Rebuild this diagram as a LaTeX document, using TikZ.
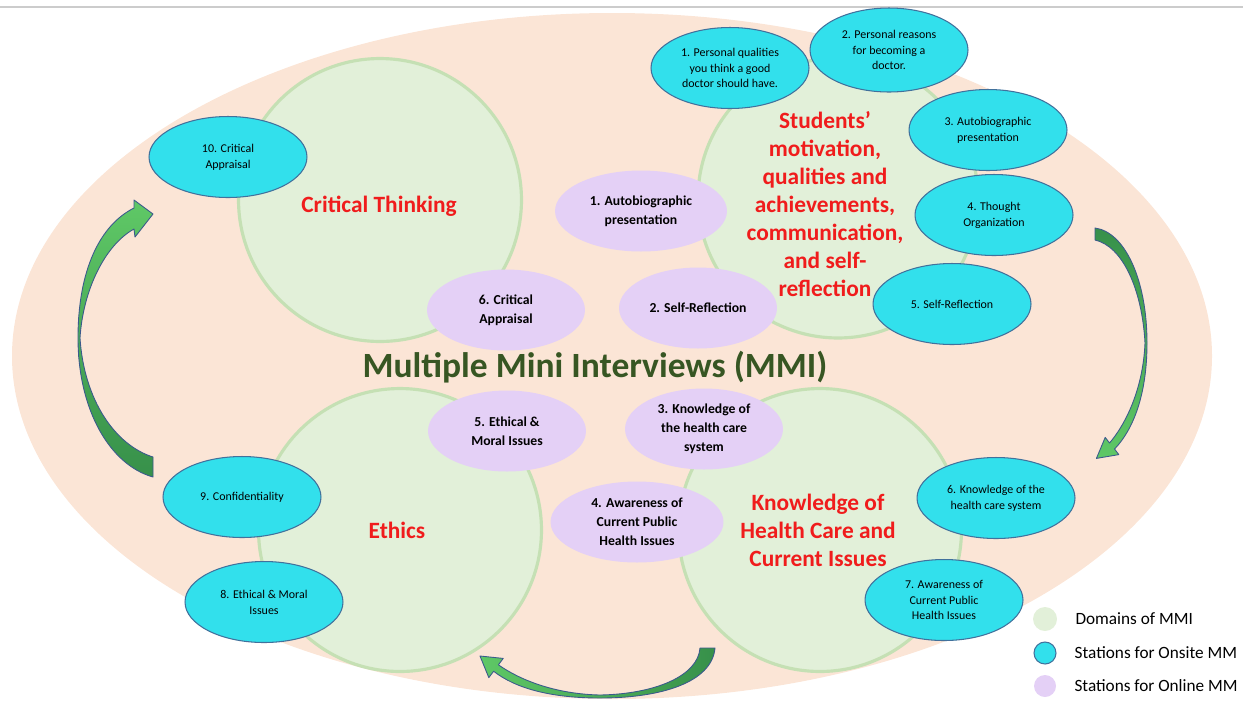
\documentclass[tikz,border=0pt]{standalone}
\usepackage{fontspec}
\setmainfont{Carlito}
\usetikzlibrary{shapes.geometric,positioning}

\definecolor{peach}{HTML}{FBE5D6}
\definecolor{domainfill}{HTML}{E2F0D9}
\definecolor{domainline}{HTML}{C5E0B4}
\definecolor{onsitefill}{HTML}{32E0EC}
\definecolor{onsiteline}{HTML}{41719C}
\definecolor{onlinefill}{HTML}{E4D0F6}
\definecolor{domainred}{HTML}{F01C1C}
\definecolor{titlegreen}{HTML}{375623}
\definecolor{arrowlight}{HTML}{5FC866}
\definecolor{arrowdark}{HTML}{37904A}
\definecolor{arrowline}{HTML}{3B5A8C}

\tikzset{%
  % Specifications for style of nodes:
   domaincircle/.style = {circle, fill=domainfill, draw=domainline,
                          line width=1.8pt, minimum size=5.66cm, inner sep=0pt},
     domaintext/.style = {text=domainred, align=center,
                          font=\fontsize{13.3}{16}\selectfont\bfseries},
        station/.style = {ellipse, inner sep=0pt, minimum width=3.16cm,
                          minimum height=1.62cm, align=center},
         onsite/.style = {station, fill=onsitefill, draw=onsiteline,
                          line width=0.6pt, font=\fontsize{6.8}{9}\selectfont},
         online/.style = {station, fill=onlinefill,
                          font=\fontsize{7.8}{10.7}\selectfont\bfseries},
       bigarrow/.style = {draw=arrowline, line width=0.5pt, line join=round},
     legendtext/.style = {anchor=west, font=\fontsize{9.8}{12}\selectfont},
}

\begin{document}
\begin{tikzpicture}[x=0.02cm, y=-0.02cm]
\useasboundingbox (0,0) rectangle (1243,701);

\draw[black!20, line width=1pt] (0,7) -- (1243,7);
\fill[peach] (612,356) ellipse [x radius=600, y radius=343];

% domains
\node (CT)  [domaincircle] at (380,200) {};
\node (SM)  [domaincircle, minimum size=5.6cm] at (838,198) {};
\node (ETH) [domaincircle] at (400,530) {};
\node (KH)  [domaincircle] at (820,530) {};

\node (CTl)  [domaintext] at (379,206) {Critical Thinking};
\node (SMl)  [domaintext] at (825,204) {Students’\\motivation,\\qualities and\\achievements,\\communication,\\and self-\\reflection};
\node (ETHl) [domaintext] at (397,530) {Ethics};
\node (KHl)  [domaintext] at (818,530) {Knowledge of\\Health Care and\\Current Issues};

% online stations
\node (p1) [online, minimum width=3.44cm] at (641,211) {1. Autobiographic\\presentation};
\node (p2) [online] at (698,308) {2. Self-Reflection};
\node (p3) [online] at (704,429) {3. Knowledge of\\the health care\\system};
\node (p4) [online, minimum width=3.46cm] at (637,522) {4. Awareness of\\Current Public\\Health Issues};
\node (p5) [online] at (507,431) {5. Ethical \&\\Moral Issues};
\node (p6) [online] at (506,310) {6. Critical\\Appraisal};

% onsite stations
\node (c1)  [onsite] at (730,68)  {1. Personal qualities\\you think a good\\doctor should have.};
\node (c2)  [onsite, minimum height=1.68cm] at (889,50) {2. Personal reasons\\for becoming a\\doctor.};
\node (c3)  [onsite] at (988,130) {3. Autobiographic\\presentation};
\node (c4)  [onsite] at (994,215) {4. Thought\\Organization};
\node (c5)  [onsite] at (952,304) {5. Self-Reflection};
\node (c6)  [onsite] at (996,498) {6. Knowledge of the\\health care system};
\node (c7)  [onsite] at (944,600) {7. Awareness of\\Current Public\\Health Issues};
\node (c8)  [onsite] at (264,602) {8. Ethical \& Moral\\Issues};
\node (c9)  [onsite] at (242,497) {9. Confidentiality};
\node (c10) [onsite] at (228,157) {10. Critical\\Appraisal};

\node (title) [text=titlegreen, font=\fontsize{20.2}{24}\selectfont\bfseries]
  at (595,367) {Multiple Mini Interviews (MMI)};

% curved arrows
\path[bigarrow, top color=arrowlight, bottom color=arrowdark]
  (153,477) .. controls (110,465) and (78,410) .. (78,338)
  .. controls (78,270) and (100,225) .. (134,208)
  -- (134,200) -- (153,214) -- (135,237) -- (134,229)
  .. controls (105,245) and (83,290) .. (80,338)
  .. controls (84,400) and (115,445) .. (153,457) -- cycle;
\path[bigarrow, top color=arrowdark, bottom color=arrowlight]
  (1095,228) .. controls (1125,232) and (1147,280) .. (1147,343)
  .. controls (1147,395) and (1133,430) .. (1114.5,449)
  -- (1118.8,454.6) -- (1096.4,458.4) -- (1105.2,437.4) -- (1109.5,443)
  .. controls (1125,425) and (1143,390) .. (1145,343)
  .. controls (1142,288) and (1122,246) .. (1095,240) -- cycle;
\path[bigarrow, left color=arrowlight, right color=arrowdark]
  (715,648) .. controls (712,682) and (662,698) .. (600,698)
  .. controls (550,698) and (515,688) .. (493.6,671.2)
  -- (488.8,677.6) -- (480,656) -- (503.2,658.4) -- (498.4,664.8)
  .. controls (520,680) and (555,694) .. (600,695)
  .. controls (655,694) and (698,676) .. (700,648) -- cycle;

% legend
\node (lgD) [circle, fill=domainfill, inner sep=0pt, minimum size=0.48cm] at (1045,619) {};
\node (lgS) [circle, fill=onsitefill, draw=onsiteline, line width=0.6pt,
             inner sep=0pt, minimum size=0.44cm] at (1045,653) {};
\node (lgO) [circle, fill=onlinefill, inner sep=0pt, minimum size=0.44cm] at (1045,686) {};
\node (lgDt) [legendtext, right=0.24cm of lgD] {Domains of MMI};
\node (lgSt) [legendtext, right=0.24cm of lgS] {Stations for Onsite MM};
\node (lgOt) [legendtext, right=0.24cm of lgO] {Stations for Online MM};
\end{tikzpicture}
\end{document}
